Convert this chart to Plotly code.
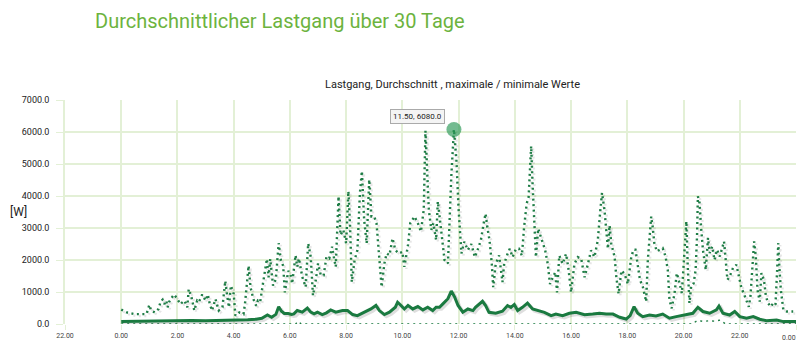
import plotly.graph_objects as go

# ---- data (hours since midnight, watts) ----
max_t = [0.0, 0.2, 0.47, 0.67, 0.9, 1.0, 1.06, 1.2, 1.33, 1.4, 1.47, 1.53, 1.6, 1.65, 1.7, 1.76, 1.88,
         2.0, 2.1, 2.25, 2.35, 2.4, 2.5, 2.6, 2.7, 2.76, 2.88, 3.0, 3.08, 3.15, 3.23, 3.35, 3.47, 3.6,
         3.7, 3.76, 3.83, 3.9, 4.0, 4.06, 4.2, 4.35, 4.4, 4.53, 4.6, 4.7, 4.8, 4.86, 4.94, 5.03, 5.18,
         5.24, 5.3, 5.4, 5.5, 5.6, 5.68, 5.76, 5.82, 5.94, 6.02, 6.08, 6.2, 6.26, 6.32, 6.44, 6.56,
         6.65, 6.74, 6.82, 6.92, 7.0, 7.1, 7.2, 7.3, 7.4, 7.5, 7.57, 7.63, 7.73, 7.8, 7.9, 8.0, 8.08,
         8.14, 8.2, 8.3, 8.4, 8.49, 8.56, 8.64, 8.73, 8.82, 8.9, 9.0, 9.08, 9.18, 9.26, 9.36, 9.44,
         9.54, 9.65, 9.75, 9.87, 10.0, 10.07, 10.2, 10.28, 10.43, 10.55, 10.66, 10.76, 10.82, 10.88,
         10.94, 11.03, 11.1, 11.2, 11.26, 11.35, 11.44, 11.5, 11.62, 11.74, 11.833, 11.92, 12.0,
         12.1, 12.2, 12.33, 12.45, 12.58, 12.67, 12.79, 12.9, 12.96, 13.02, 13.1, 13.18, 13.23,
         13.32, 13.44, 13.56, 13.62, 13.74, 13.82, 13.92, 14.04, 14.15, 14.25, 14.33, 14.42, 14.49,
         14.55, 14.58, 14.63, 14.69, 14.75, 14.83, 14.93, 15.01, 15.08, 15.17, 15.25, 15.35, 15.44,
         15.5, 15.58, 15.7, 15.82, 15.9, 16.0, 16.12, 16.24, 16.36, 16.48, 16.6, 16.71, 16.83,
         16.95, 17.04, 17.1, 17.19, 17.25, 17.31, 17.37, 17.43, 17.55, 17.61, 17.69, 17.79, 17.9,
         18.02, 18.14, 18.22, 18.29, 18.37, 18.45, 18.55, 18.67, 18.73, 18.79, 18.85, 18.9, 18.96,
         19.05, 19.14, 19.26, 19.36, 19.44, 19.5, 19.58, 19.68, 19.76, 19.86, 19.94, 20.0, 20.06,
         20.1, 20.15, 20.21, 20.27, 20.36, 20.43, 20.48, 20.51, 20.57, 20.63, 20.69, 20.79, 20.87,
         20.93, 21.02, 21.1, 21.19, 21.29, 21.38, 21.44, 21.5, 21.56, 21.64, 21.76, 21.88, 21.98,
         22.06, 22.14, 22.24, 22.32, 22.38, 22.45, 22.51, 22.57, 22.63, 22.71, 22.77, 22.86, 22.93,
         23.01, 23.1, 23.19, 23.27, 23.33, 23.37, 23.4, 23.46, 23.55, 23.67, 23.79, 23.9]
max_v = [450, 360, 310, 310, 310, 600, 420, 360, 470, 700, 760, 620, 730, 520, 680, 780, 920,
         780, 620, 730, 520, 1090, 830, 420, 730, 680, 920, 730, 920, 620, 420, 780, 420, 520,
         1350, 940, 520, 1200, 940, 260, 360, 310, 620, 1820, 1140, 780, 570, 730, 680, 1200, 2030,
         1460, 2030, 1200, 1400, 2530, 1980, 1820, 990, 1660, 1560, 1260, 2150, 1785, 2050, 1470, 1155,
         2520, 2100, 890, 1365, 1890, 1520, 1520, 2100, 2050, 2415, 2050, 1785, 3990, 2780, 2940, 2520, 4150,
         3045, 1310, 1995, 2310, 4095, 4780, 3255, 2520, 4515, 3360, 3360, 3150, 1890, 1155, 1890, 2205,
         2150, 2680, 2310, 2205, 2255, 1785, 2470, 3150, 3360, 3150, 2890, 3570, 6040, 4620,
         3570, 2940, 3150, 2625, 3830, 3150, 2520, 1995, 1890, 4620, 6080, 5145, 3570,
         2205, 2570, 2310, 2500, 2090, 2300, 2610, 3190, 3450, 3030, 2610, 1880, 1150,
         1880, 2140, 1310, 1880, 2190, 2350, 2090, 2350, 2350, 2140, 3030, 3760, 3970,
         4810, 5560, 4390, 2930, 2090, 2980, 2720, 2510, 2300, 1880, 1250, 1460, 1620,
         990, 2140, 1880, 2190, 1780, 990, 1880, 2090, 2040, 1460, 1880, 2300, 2090,
         2610, 3550, 4100, 3550, 2820, 2350, 3080, 2510, 2090, 1460, 940, 1670, 1570,
         1250, 2090, 2320, 2320, 1800, 1380, 1170, 700, 2000, 2740, 3360, 3050, 2530,
         2270, 2320, 2370, 2110, 1690, 750, 490, 960, 1590, 1270, 960, 1800, 2740,
         3210, 1800, 650, 1170, 1270, 1690, 2740, 3990, 3780, 2950, 2320, 1690, 2690,
         2215, 2420, 2000, 2320, 2110, 2420, 2580, 2000, 1380, 1480, 1750, 1850, 1480,
         1120, 960, 700, 540, 860, 1690, 2580, 2110, 1070, 700, 1590, 1380, 860,
         650, 540, 650, 600, 1690, 2530, 1900, 1070, 440, 390, 390, 390]

mean_t = [0.0, 0.5, 1.0, 1.5, 2.0, 2.5, 3.0, 3.5, 4.0, 4.5, 4.8, 5.0, 5.2, 5.35, 5.5, 5.6, 5.7, 5.8,
          5.94, 6.06, 6.14, 6.26, 6.44, 6.62, 6.74, 6.86, 6.98, 7.15, 7.3, 7.45, 7.63, 7.87, 8.05,
          8.23, 8.4, 8.58, 8.88, 9.06, 9.18, 9.36, 9.54, 9.75, 9.83, 9.95, 10.07, 10.2, 10.37, 10.55,
          10.73, 10.9, 11.08, 11.2, 11.32, 11.44, 11.62, 11.74, 11.86, 11.98, 12.15, 12.33, 12.51,
          12.6, 12.85, 12.96, 13.08, 13.32, 13.56, 13.74, 13.86, 13.98, 14.1, 14.27, 14.45, 14.63,
          14.87, 15.05, 15.29, 15.46, 15.7, 15.94, 16.18, 16.48, 16.77, 17.01, 17.25, 17.49, 17.73,
          17.96, 18.1, 18.24, 18.37, 18.55, 18.79, 19.02, 19.26, 19.5, 19.74, 19.98, 20.15, 20.33,
          20.51, 20.69, 20.93, 21.17, 21.26, 21.4, 21.64, 21.82, 22.0, 22.24, 22.48, 22.71, 22.95,
          23.31, 23.55, 23.9, 24.0]
mean_v = [80, 90, 100, 90, 100, 110, 100, 110, 100, 130, 150, 180, 280, 210, 300, 540, 400, 330,
          330, 300, 315, 420, 370, 500, 370, 315, 370, 295, 350, 440, 370, 420, 420,
          295, 260, 335, 470, 580, 420, 295, 370, 525, 680, 580, 470, 580, 470, 545,
          440, 525, 420, 525, 525, 630, 790, 1030, 840, 580, 370, 470, 420,
          520, 710, 575, 365, 335, 400, 575, 520, 610, 420, 520, 650, 470,
          400, 365, 260, 310, 260, 335, 365, 290, 310, 335, 310, 310, 210,
          155, 260, 540, 335, 230, 280, 250, 310, 180, 230, 280, 310, 335,
          520, 390, 335, 440, 560, 335, 280, 390, 230, 180, 230, 150, 100,
          125, 75, 75, 75]

min_t = [0.0, 6.2, 6.3, 6.4, 20.3, 20.5, 20.7, 20.9, 21.1, 21.3, 21.5, 24.0]
min_v = [0, 0, 80, 0, 0, 110, 80, 100, 90, 120, 0, 0]

tick_vals = [-2, 0, 2, 4, 6, 8, 10, 12, 14, 16, 18, 20, 22, 24]
tick_text = ["22.00", "0.00", "2.00", "4.00", "6.00", "8.00", "10.00", "12.00",
             "14.00", "16.00", "18.00", "20.00", "22.00", ""]
last_tick_text = "0.00"   # label of the 24h tick, placed as an annotation so it stays inside the page
y_ticks = [0, 1000, 2000, 3000, 4000, 5000, 6000, 7000]
y_text = ["0.0", "1000.0", "2000.0", "3000.0", "4000.0", "5000.0", "6000.0", "7000.0"]

peak_t, peak_v, peak_label = 11.833, 6080, "11.50, 6080.0"

GREEN = "#1a7a40"
GRID = "#e3f0d6"
FONT = "Roboto, Liberation Sans, sans-serif"

# shadow offset for the lines (about 2 px right / 2 px down)
sh_dx, sh_dy = 0.07, 60

fig = go.Figure()
fig.add_trace(go.Scatter(x=min_t, y=min_v, mode="lines",
                         line=dict(color=GREEN, width=1.4, dash="2px,4px"), hoverinfo="skip"))
fig.add_trace(go.Scatter(x=[t + sh_dx for t in max_t], y=[v - sh_dy for v in max_v], mode="lines",
                         line=dict(color="rgba(0,0,0,0.10)", width=2.4, dash="2px,3.5px"),
                         hoverinfo="skip"))
fig.add_trace(go.Scatter(x=max_t, y=max_v, mode="lines",
                         line=dict(color="#1f7d46", width=2.4, dash="2px,3.5px"), hoverinfo="skip"))
fig.add_trace(go.Scatter(x=[t + sh_dx for t in mean_t], y=[v - sh_dy for v in mean_v], mode="lines",
                         line=dict(color="rgba(0,0,0,0.13)", width=3.5), hoverinfo="skip"))
fig.add_trace(go.Scatter(x=mean_t, y=mean_v, mode="lines",
                         line=dict(color=GREEN, width=3), hoverinfo="skip"))
fig.add_trace(go.Scatter(x=[peak_t], y=[peak_v], mode="markers",
                         marker=dict(size=15, color="rgba(40,150,85,0.65)"), hoverinfo="skip"))

# page body has an 8px margin on every side: figure fills 791x342 starting at (8, 8)
fig.update_layout(
    width=791, height=342,
    margin=dict(l=57, r=3, t=92, b=26, autoexpand=False),
    paper_bgcolor="white", plot_bgcolor="white",
    showlegend=False,
    font=dict(family=FONT, color="#333"),
    xaxis=dict(range=[-2, 24], tickvals=tick_vals, ticktext=tick_text,
               showgrid=True, gridcolor=GRID, gridwidth=1.5, zeroline=False,
               ticks="outside", ticklen=5, tickcolor=GRID, showline=False,
               tickfont=dict(size=7, color="#444")),
    yaxis=dict(range=[0, 7000], tickvals=y_ticks, ticktext=y_text,
               showgrid=True, gridcolor=GRID, gridwidth=1.5, zeroline=False,
               ticks="outside", ticklen=7, tickcolor=GRID, ticklabelstandoff=5,
               showline=True, linecolor=GRID, linewidth=1.5,
               tickfont=dict(size=9, color="#222")),
    annotations=[
        dict(text="Durchschnittlicher Lastgang über 30 Tage", xref="paper", yref="paper",
             x=(93 - 65) / 731, y=1 + (100 - 21) / 224, xanchor="left", yanchor="middle",
             showarrow=False, font=dict(size=20, color="#6cb33e")),
        dict(text="Lastgang, Durchschnitt , maximale / minimale Werte", xref="paper", yref="paper",
             x=(452 - 65) / 731, y=1 + (100 - 84) / 224, xanchor="center", yanchor="middle",
             showarrow=False, font=dict(size=11, color="#222")),
        dict(text="[W]", xref="paper", yref="paper",
             x=(8 - 65) / 731, y=(324 - 212) / 224, xanchor="left", yanchor="middle",
             showarrow=False, font=dict(size=12, color="#222")),
        dict(text=peak_label, x=10.52, y=6500, xref="x", yref="y", showarrow=False,
             bgcolor="#f4f4f4", bordercolor="#aaa", borderwidth=1, borderpad=2,
             font=dict(size=8, color="#222")),
        dict(text=last_tick_text, x=1, xref="paper", y=0, yref="paper", yshift=-14,
             xanchor="right", yanchor="middle", xshift=2, showarrow=False,
             font=dict(size=7, color="#444")),
    ],
)

fig.write_html("out.html")
